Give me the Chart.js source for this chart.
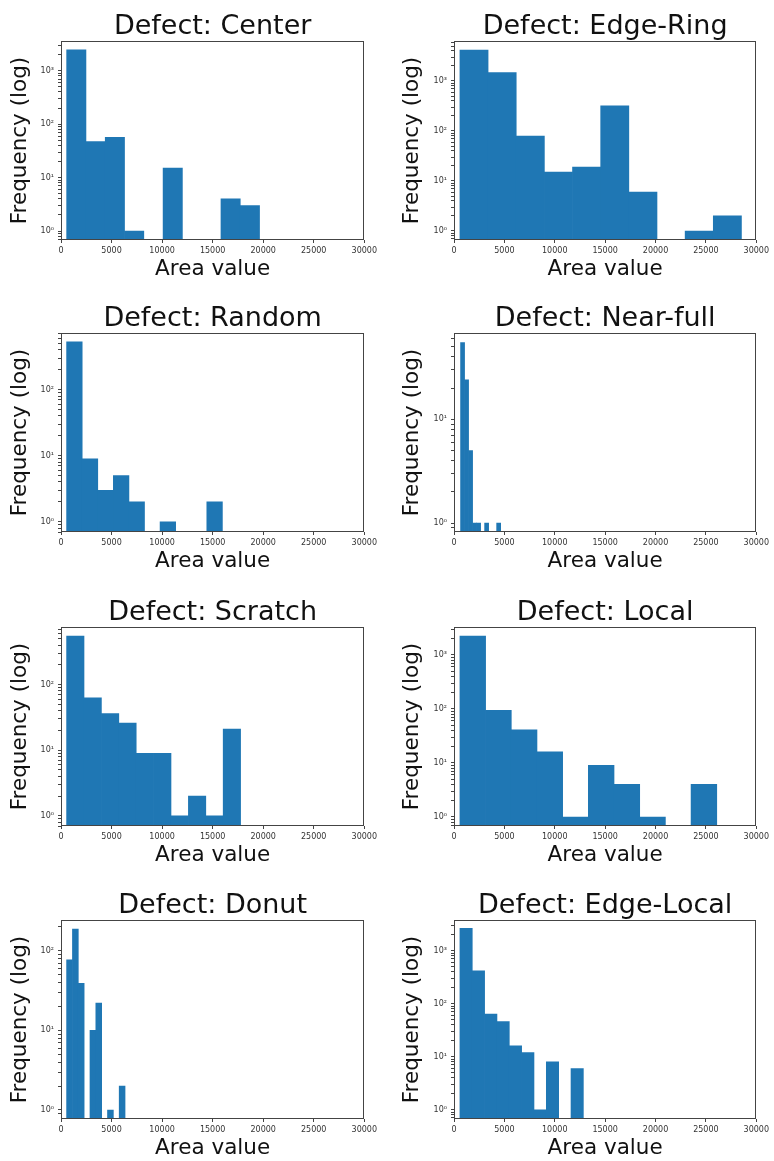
<!DOCTYPE html>
<html>
<head>
<meta charset="utf-8">
<title>Defect area histograms</title>
<script src="https://cdn.jsdelivr.net/npm/chart.js@4.4.1/dist/chart.umd.min.js"></script>
<style>
  html, body { margin: 0; padding: 0; background: #fff; overflow: hidden; }
  #grid { position: relative; width: 774px; height: 1161px; }
  #grid canvas { position: absolute; }
</style>
</head>
<body>
<div id="grid"></div>
<script>
// one histogram per defect type, 10 bins each
const defectNames = ['Center', 'Edge-Ring', 'Random', 'Near-full', 'Scratch', 'Local', 'Donut', 'Edge-Local'];
const binStarts = [560, 588, 555, 652, 555, 588, 555, 588];
const binWidths = [1908, 2794, 1541, 398, 1721, 2549, 578, 1225];

const centerCounts    = [2450, 47, 57, 1, 0, 15, 0, 0, 4, 3];
const edgeRingCounts  = [4170, 1470, 79, 15, 19, 320, 6, 0, 1, 2];
const randomCounts    = [527, 9, 3, 5, 2, 0, 1, 0, 0, 2];
const nearFullCounts  = [55, 24, 5, 1, 1, 0, 1, 0, 0, 1];
const scratchCounts   = [550, 63, 36, 26, 9, 9, 1, 2, 1, 21];
const localCounts     = [2240, 94, 41, 16, 1, 9, 4, 1, 0, 4];
const donutCounts     = [77, 188, 39, 0, 10, 22, 0, 1, 0, 2];
const edgeLocalCounts = [2640, 419, 64, 46, 16, 12, 1, 8, 0, 6];

const allCounts = [centerCounts, edgeRingCounts, randomCounts, nearFullCounts,
                   scratchCounts, localCounts, donutCounts, edgeLocalCounts];

// log axis limits of each panel
const yMins = [0.68, 0.66, 0.73, 0.82, 0.73, 0.68, 0.77, 0.67];
const yMaxs = [3600, 6300, 720, 68, 754, 3300, 244, 3800];

const xMin = 0, xMax = 30000, xStep = 5000;

Chart.defaults.font.family = "'DejaVu Sans', sans-serif";

const SUP = { '0': '\u2070', '1': '\u00b9', '2': '\u00b2', '3': '\u00b3', '4': '\u2074' };

function isPow10(v) {
  const l = Math.log10(v);
  return Math.abs(l - Math.round(l)) < 1e-9;
}

// box around the plot area like matplotlib spines
const frame = {
  id: 'frame',
  afterDatasetsDraw(chart) {
    const { ctx, chartArea: a } = chart;
    ctx.save();
    ctx.strokeStyle = '#444';
    ctx.lineWidth = 1;
    ctx.strokeRect(Math.round(a.left) + 0.5, Math.round(a.top) + 0.5,
                   Math.round(a.width) - 1, Math.round(a.height) - 1);
    ctx.restore();
  }
};

const colLeft = [0, 392];
const rowTop = [0, 292, 586, 879];
const grid = document.getElementById('grid');

defectNames.forEach((name, k) => {
  const col = k % 2, row = Math.floor(k / 2);
  const canvas = document.createElement('canvas');
  canvas.width = 380;
  canvas.height = 285;
  canvas.style.left = colLeft[col] + 'px';
  canvas.style.top = rowTop[row] + 'px';
  grid.appendChild(canvas);

  const yAxisWidth = col ? 62 : 61;

  const points = allCounts[k].map((c, i) => ({
    x: binStarts[k] + (i + 0.5) * binWidths[k],
    y: c > 0 ? c : null
  }));

  new Chart(canvas.getContext('2d'), {
    type: 'bar',
    data: {
      datasets: [{
        data: points,
        backgroundColor: '#1f77b4',
        borderWidth: 0,
        barPercentage: 1,
        categoryPercentage: 1
      }]
    },
    options: {
      responsive: false,
      animation: false,
      layout: { padding: { left: 0, right: 12, top: 0, bottom: 0 } },
      plugins: {
        legend: { display: false },
        tooltip: { enabled: false },
        title: {
          display: true,
          text: 'Defect: ' + name,
          fullSize: false,
          color: '#111',
          font: { size: 27, weight: 'normal', lineHeight: 1 },
          padding: { top: 13, bottom: 1 }
        }
      },
      scales: {
        x: {
          type: 'linear',
          offset: false,
          min: xMin,
          max: xMax,
          afterFit(axis) { axis.height = 45; },
          grid: { display: true, offset: false, drawOnChartArea: false, drawTicks: true, tickLength: 3, tickColor: '#444' },
          border: { display: false },
          ticks: {
            stepSize: xStep,
            autoSkip: false,
            maxRotation: 0,
            padding: 3,
            color: '#333',
            font: { size: 8 },
            callback: v => String(v)
          },
          title: {
            display: true,
            text: 'Area value',
            color: '#111',
            font: { size: 21.5, lineHeight: 1 },
            padding: { top: 0, bottom: 4.5 }
          }
        },
        y: {
          type: 'logarithmic',
          min: yMins[k],
          max: yMaxs[k],
          afterFit(axis) { axis.width = yAxisWidth; },
          afterBuildTicks(axis) {
            axis.ticks = axis.ticks.filter(t => {
              const m = t.value / Math.pow(10, Math.floor(Math.log10(t.value) + 1e-9));
              return Math.abs(m - Math.round(m)) < 1e-6;
            });
          },
          grid: { display: true, drawOnChartArea: false, drawTicks: true, tickLength: 3, tickColor: '#444' },
          border: { display: false },
          ticks: {
            autoSkip: false,
            padding: 4,
            color: '#333',
            font: { size: 8 },
            callback: v => isPow10(v) ? '10' + SUP[String(Math.round(Math.log10(v)))] : ''
          },
          title: {
            display: true,
            text: 'Frequency (log)',
            color: '#111',
            font: { size: 21.5, lineHeight: 1 },
            padding: { top: 10, bottom: 0 }
          }
        }
      }
    },
    plugins: [frame]
  });
});
</script>
</body>
</html>
